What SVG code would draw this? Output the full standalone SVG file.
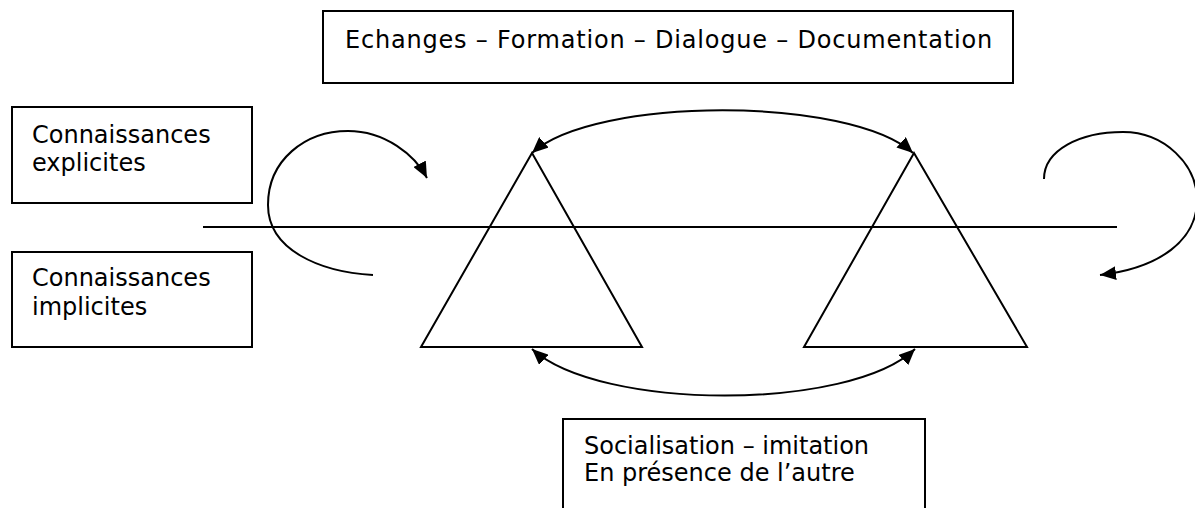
<svg xmlns="http://www.w3.org/2000/svg" width="1195" height="508" viewBox="0 0 1195 508">
<style>
.box{fill:#fff;stroke:#000;stroke-width:2}
.tri{fill:none;stroke:#000;stroke-width:2;stroke-linejoin:miter}
.ln{fill:none;stroke:#000;stroke-width:2}
.t{font-family:"DejaVu Sans","Liberation Sans",sans-serif;font-size:24px;fill:#000}
</style>
<defs>
<marker id="ah" markerUnits="userSpaceOnUse" markerWidth="17" markerHeight="14" refX="16" refY="7" orient="auto-start-reverse">
<path d="M0,0 L16,7 L0,14 z" fill="#000"/>
</marker>
</defs>
<rect width="1195" height="508" fill="#fff"/>
<g id="top-box">
<rect class="box" x="323" y="11" width="690" height="72"/>
<text class="t" x="345" y="48" letter-spacing="0.8">Echanges – Formation – Dialogue – Documentation</text>
</g>
<g id="explicit-box">
<rect class="box" x="12" y="107" width="240" height="96"/>
<text class="t" x="32" y="143">Connaissances</text>
<text class="t" x="32" y="171">explicites</text>
</g>
<g id="implicit-box">
<rect class="box" x="12" y="252" width="240" height="95"/>
<text class="t" x="32" y="286">Connaissances</text>
<text class="t" x="32" y="315">implicites</text>
</g>
<g id="social-box">
<rect class="box" x="563" y="419" width="362" height="120"/>
<text class="t" x="584" y="454">Socialisation – imitation</text>
<text class="t" x="584" y="481">En présence de l’autre</text>
</g>
<g id="triangle-left">
<path class="tri" d="M532,153 L421,347 L642,347 Z"/>
</g>
<g id="triangle-right">
<path class="tri" d="M914,153 L804,347 L1027,347 Z"/>
</g>
<g id="connectors">
<line class="ln" x1="203" y1="227" x2="1117" y2="227"/>
<path class="ln" d="M532,153 C595,96 850,96 913,153" marker-start="url(#ah)" marker-end="url(#ah)"/>
<path class="ln" d="M532,349 C600,411 850,411 915,349" marker-start="url(#ah)" marker-end="url(#ah)"/>
<path class="ln" d="M373,275 C320,272 268,250 268,205 C268,160 305,131 348,131 C385,131 415,155 427,178" marker-end="url(#ah)"/>
<path class="ln" d="M1044,179 C1044,150 1080,132 1123,132 C1165,132 1197,165 1197,200 C1197,240 1160,268 1100,275" marker-end="url(#ah)"/>
</g>
</svg>
